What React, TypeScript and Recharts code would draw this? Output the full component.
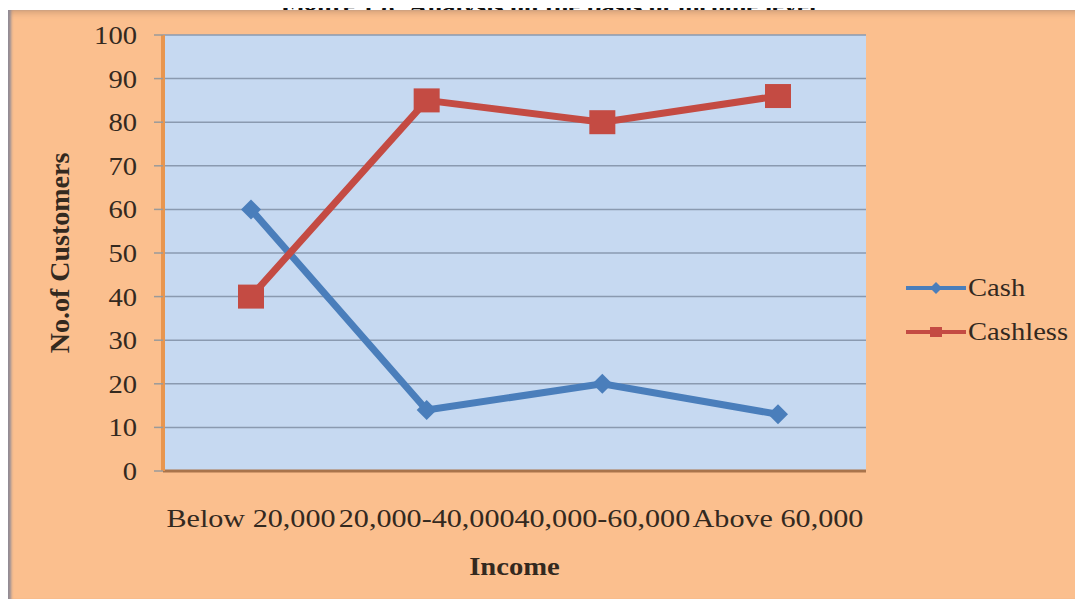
import { CartesianGrid, Label, Legend, Line, LineChart, XAxis, YAxis } from 'recharts';

const incomeBands = ['Below 20,000', '20,000-40,000', '40,000-60,000', 'Above 60,000'];
const cashValues = [60, 14, 20, 13];
const cashlessValues = [40, 85, 80, 86];
const yTicks = [0, 10, 20, 30, 40, 50, 60, 70, 80, 90, 100];

const SERIF = "'Liberation Serif', 'Times New Roman', serif";
const INK = '#33291f';
const CASH = '#4a7ebb';
const CASHLESS = '#c44b43';
const FRAME = '#e8964f';
const STRETCH = 1.1;

const data = incomeBands.map((band, i) => ({
  band,
  cash: cashValues[i],
  cashless: cashlessValues[i],
}));

function stretchAt(x: number, s = STRETCH) {
  return `translate(${x},0) scale(${s},1) translate(${-x},0)`;
}

function YTick({ x, y, payload }: any) {
  return (
    <text x={x} y={y} dy={9} textAnchor="end" fontSize={26} fill={INK} fontFamily={SERIF} transform={stretchAt(x)}>
      {payload.value}
    </text>
  );
}

function XTick({ x, y, payload }: any) {
  return (
    <text x={x} y={y} dy={56} textAnchor="middle" fontSize={26} fill={INK} fontFamily={SERIF} transform={stretchAt(x, 1.16)}>
      {payload.value}
    </text>
  );
}

function CashDot({ cx, cy }: any) {
  if (cx == null || cy == null) return null;
  const r = 10;
  return <polygon points={`${cx},${cy - r} ${cx + r},${cy} ${cx},${cy + r} ${cx - r},${cy}`} fill={CASH} />;
}

function CashlessDot({ cx, cy }: any) {
  if (cx == null || cy == null) return null;
  return <rect x={cx - 13} y={cy - 12} width={26} height={24} fill={CASHLESS} />;
}

const legendItems = [
  { name: 'Cash', color: CASH, marker: 'diamond' },
  { name: 'Cashless', color: CASHLESS, marker: 'square' },
];

function LegendBox() {
  return (
    <div style={{ display: 'flex', flexDirection: 'column' }}>
      {legendItems.map((item) => (
        <div key={item.name} style={{ display: 'flex', alignItems: 'center', height: 44 }}>
          <svg width={62} height={20} style={{ display: 'block' }}>
            <line x1={0} y1={10} x2={60} y2={10} stroke={item.color} strokeWidth={4} />
            {item.marker === 'diamond' ? (
              <polygon points="30,4 36,10 30,16 24,10" fill={item.color} />
            ) : (
              <rect x={24} y={5} width={12} height={10} fill={item.color} />
            )}
          </svg>
          <span
            style={{
              fontFamily: SERIF,
              fontSize: 26,
              color: INK,
              lineHeight: '26px',
              transform: `scaleX(${STRETCH})`,
              transformOrigin: 'left center',
              whiteSpace: 'nowrap',
            }}
          >
            {item.name}
          </span>
        </div>
      ))}
    </div>
  );
}

function YLabel({ viewBox }: any) {
  const cx = 52;
  const cy = viewBox.y + viewBox.height / 2;
  return (
    <text
      x={cx}
      y={cy}
      textAnchor="middle"
      dominantBaseline="central"
      fontSize={28}
      fontWeight="bold"
      fill={INK}
      fontFamily={SERIF}
      transform={`rotate(-90, ${cx}, ${cy})`}
    >
      No.of Customers
    </text>
  );
}

function XLabel({ viewBox }: any) {
  const cx = viewBox.x + viewBox.width / 2;
  const cy = viewBox.y + 104;
  return (
    <text x={cx} y={cy} textAnchor="middle" fontSize={26} fontWeight="bold" fill={INK} fontFamily={SERIF} transform={stretchAt(cx)}>
      Income
    </text>
  );
}

export default function App() {
  return (
    <div style={{ position: 'relative', width: 1083, height: 607, margin: -8, background: '#fff', overflow: 'hidden' }}>
      <div
        style={{
          position: 'absolute',
          left: 0,
          width: 1083,
          top: -6,
          textAlign: 'center',
          fontFamily: SERIF,
          fontWeight: 'bold',
          fontSize: 24,
          lineHeight: '24px',
          color: '#111',
          paddingLeft: 14,
          boxSizing: 'border-box',
          transform: 'scaleX(1.1)',
          transformOrigin: '549px 0',
        }}
      >
        Figure 1.8: Analysis on the basis of income level
      </div>
      <div
        style={{
          position: 'absolute',
          left: 7,
          top: 10,
          width: 1076,
          height: 594,
          background: '#fbbf8e',
          boxShadow: 'inset 5px 0 3px -1px #8f8a96, inset 0 -4px 3px -1px #a57a58, inset 0 6px 6px -3px #d4a07a',
        }}
      >
        <LineChart width={1076} height={594} data={data} margin={{ top: 25, right: 217, left: 0, bottom: 73 }}>
          <CartesianGrid horizontal vertical={false} fill="#c6d9f1" stroke="#8a9ab0" strokeWidth={1.5} />
          <XAxis
            dataKey="band"
            interval={0}
            height={60}
            padding={{ left: 88, right: 88 }}
            tickLine={false}
            tickSize={0}
            tickMargin={0}
            axisLine={{ stroke: '#a9744b', strokeWidth: 3 }}
            tick={<XTick />}
          >
            <Label content={<XLabel />} />
          </XAxis>
          <XAxis
            xAxisId="top"
            orientation="top"
            dataKey="band"
            height={0}
            tick={false}
            tickLine={false}
            axisLine={{ stroke: FRAME, strokeWidth: 4 }}
          />
          <YAxis
            width={156}
            domain={[0, 100]}
            ticks={yTicks}
            interval={0}
            tickSize={9}
            tickMargin={17}
            tickLine={{ stroke: '#9a9a9a', strokeWidth: 1.5 }}
            axisLine={{ stroke: FRAME, strokeWidth: 4 }}
            tick={<YTick />}
          >
            <Label content={<YLabel />} />
          </YAxis>
          <YAxis
            yAxisId="right"
            orientation="right"
            width={0}
            domain={[0, 100]}
            tick={false}
            tickLine={false}
            axisLine={{ stroke: FRAME, strokeWidth: 4 }}
          />
          <Legend
            layout="vertical"
            align="center"
            verticalAlign="middle"
            content={<LegendBox />}
            wrapperStyle={{ position: 'absolute', left: 899, top: 256, width: 175, height: 88 }}
          />
          <Line
            type="linear"
            dataKey="cash"
            name="Cash"
            stroke={CASH}
            strokeWidth={7}
            dot={<CashDot />}
            activeDot={false}
            isAnimationActive={false}
          />
          <Line
            type="linear"
            dataKey="cashless"
            name="Cashless"
            stroke={CASHLESS}
            strokeWidth={7}
            dot={<CashlessDot />}
            activeDot={false}
            isAnimationActive={false}
          />
        </LineChart>
      </div>
    </div>
  );
}
